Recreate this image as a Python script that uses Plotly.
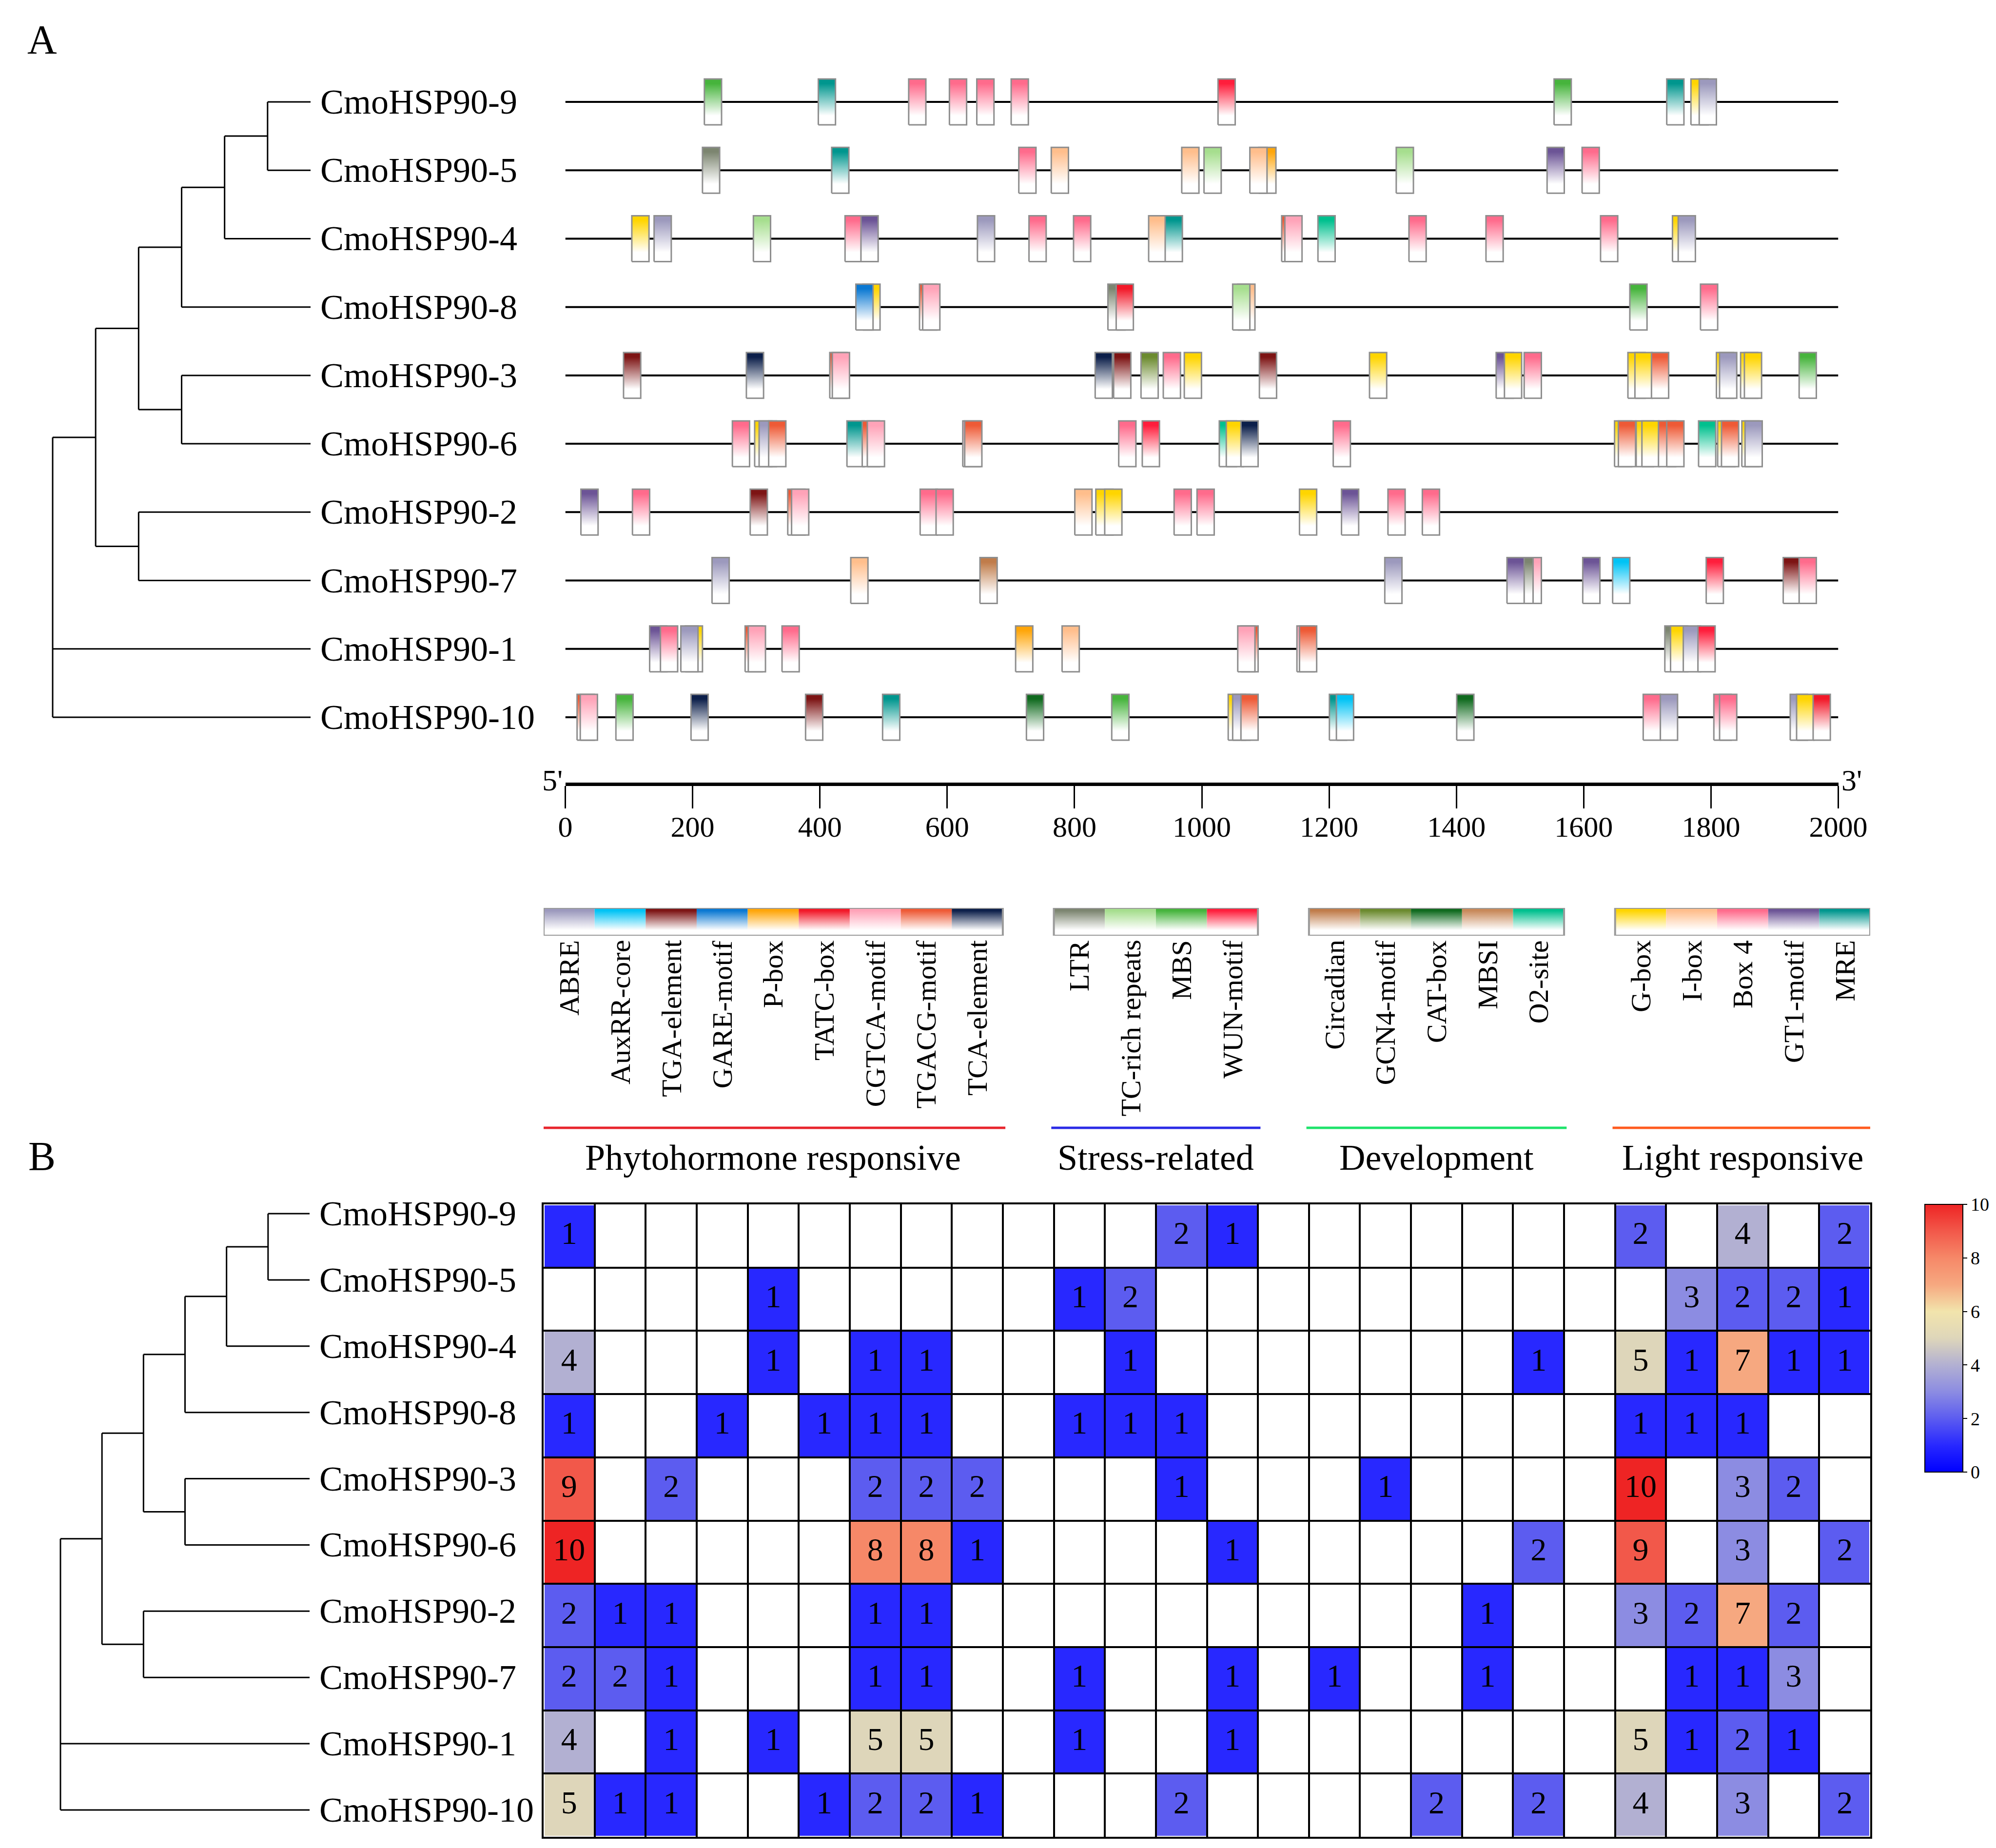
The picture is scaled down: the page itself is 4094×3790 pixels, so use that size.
import plotly.graph_objects as go

W, H = 4094, 3790
FONT = "Liberation Serif"

# ---------------- data ----------------
GENES = ["CmoHSP90-9", "CmoHSP90-5", "CmoHSP90-4", "CmoHSP90-8", "CmoHSP90-3",
         "CmoHSP90-6", "CmoHSP90-2", "CmoHSP90-7", "CmoHSP90-1", "CmoHSP90-10"]

TREE = ((((((("CmoHSP90-9", "CmoHSP90-5"), "CmoHSP90-4"), "CmoHSP90-8"),
           ("CmoHSP90-3", "CmoHSP90-6")),
          ("CmoHSP90-2", "CmoHSP90-7"))),
        "CmoHSP90-1", "CmoHSP90-10")

GROUPS = ["Phytohormone responsive", "Stress-related", "Development", "Light responsive"]
GROUP_MOTIFS = [
    ["ABRE", "AuxRR-core", "TGA-element", "GARE-motif", "P-box", "TATC-box",
     "CGTCA-motif", "TGACG-motif", "TCA-element"],
    ["LTR", "TC-rich repeats", "MBS", "WUN-motif"],
    ["Circadian", "GCN4-motif", "CAT-box", "MBSI", "O2-site"],
    ["G-box", "I-box", "Box 4", "GT1-motif", "MRE"],
]

# counts per gene, motif order as in GROUP_MOTIFS flattened
COUNTS_9 = [1, 0, 0, 0, 0, 0, 0, 0, 0, 0, 0, 2, 1, 0, 0, 0, 0, 0, 2, 0, 4, 0, 2]
COUNTS_5 = [0, 0, 0, 0, 1, 0, 0, 0, 0, 1, 2, 0, 0, 0, 0, 0, 0, 0, 0, 3, 2, 2, 1]
COUNTS_4 = [4, 0, 0, 0, 1, 0, 1, 1, 0, 0, 1, 0, 0, 0, 0, 0, 0, 1, 5, 1, 7, 1, 1]
COUNTS_8 = [1, 0, 0, 1, 0, 1, 1, 1, 0, 1, 1, 1, 0, 0, 0, 0, 0, 0, 1, 1, 1, 0, 0]
COUNTS_3 = [9, 0, 2, 0, 0, 0, 2, 2, 2, 0, 0, 1, 0, 0, 1, 0, 0, 0, 10, 0, 3, 2, 0]
COUNTS_6 = [10, 0, 0, 0, 0, 0, 8, 8, 1, 0, 0, 0, 1, 0, 0, 0, 0, 2, 9, 0, 3, 0, 2]
COUNTS_2 = [2, 1, 1, 0, 0, 0, 1, 1, 0, 0, 0, 0, 0, 0, 0, 0, 1, 0, 3, 2, 7, 2, 0]
COUNTS_7 = [2, 2, 1, 0, 0, 0, 1, 1, 0, 1, 0, 0, 1, 1, 0, 0, 1, 0, 0, 1, 1, 3, 0]
COUNTS_1 = [4, 0, 1, 0, 1, 0, 5, 5, 0, 1, 0, 0, 1, 0, 0, 0, 0, 0, 5, 1, 2, 1, 0]
COUNTS_10 = [5, 1, 1, 0, 0, 1, 2, 2, 1, 0, 0, 2, 0, 0, 0, 2, 0, 2, 4, 0, 3, 0, 2]
COUNTS = [COUNTS_9, COUNTS_5, COUNTS_4, COUNTS_8, COUNTS_3,
          COUNTS_6, COUNTS_2, COUNTS_7, COUNTS_1, COUNTS_10]

# promoter element positions (bp) per gene, in drawing order
SITES_9 = [("MBS", 232), ("MRE", 411), ("Box 4", 553), ("Box 4", 617), ("Box 4", 660),
           ("Box 4", 714), ("WUN-motif", 1039), ("MBS", 1567), ("MRE", 1744),
           ("G-box", 1782), ("ABRE", 1795)]
SITES_5 = [("LTR", 229), ("MRE", 432), ("Box 4", 726), ("I-box", 777), ("I-box", 982),
           ("TC-rich repeats", 1017), ("P-box", 1103), ("I-box", 1089),
           ("TC-rich repeats", 1319), ("GT1-motif", 1556), ("Box 4", 1611)]
SITES_4 = [("G-box", 118), ("ABRE", 153), ("TC-rich repeats", 309), ("Box 4", 453),
           ("GT1-motif", 478), ("ABRE", 661), ("Box 4", 742), ("Box 4", 812), ("I-box", 930),
           ("MRE", 956), ("TGACG-motif", 1139), ("CGTCA-motif", 1144), ("O2-site", 1196),
           ("Box 4", 1339), ("Box 4", 1460), ("Box 4", 1640), ("G-box", 1753), ("ABRE", 1762)]
SITES_8 = [("G-box", 481), ("GARE-motif", 470), ("TGACG-motif", 570), ("CGTCA-motif", 575),
           ("LTR", 866), ("TATC-box", 879), ("I-box", 1070), ("TC-rich repeats", 1062),
           ("MBS", 1686), ("Box 4", 1797)]
SITES_3 = [("TGA-element", 105), ("TCA-element", 298), ("TGACG-motif", 429),
           ("CGTCA-motif", 433), ("TCA-element", 846), ("TGA-element", 875),
           ("GCN4-motif", 918), ("Box 4", 953), ("G-box", 986), ("TGA-element", 1104),
           ("G-box", 1277), ("GT1-motif", 1476), ("G-box", 1489), ("Box 4", 1520),
           ("G-box", 1683), ("G-box", 1694), ("TGACG-motif", 1720), ("G-box", 1822),
           ("ABRE", 1827), ("G-box", 1860), ("G-box", 1866), ("MBS", 1952)]
SITES_6 = [("Box 4", 276), ("G-box", 311), ("ABRE", 318), ("TGACG-motif", 333), ("MRE", 456),
           ("TGACG-motif", 480), ("CGTCA-motif", 488), ("CGTCA-motif", 638),
           ("TGACG-motif", 641), ("Box 4", 883), ("WUN-motif", 920), ("O2-site", 1041),
           ("G-box", 1052), ("TCA-element", 1075), ("Box 4", 1220), ("G-box", 1662),
           ("TGACG-motif", 1668), ("G-box", 1696), ("G-box", 1705), ("TGACG-motif", 1731),
           ("TGACG-motif", 1744), ("O2-site", 1794), ("G-box", 1824), ("TGACG-motif", 1830),
           ("G-box", 1862), ("ABRE", 1867)]
SITES_2 = [("GT1-motif", 38), ("Box 4", 119), ("TGA-element", 304), ("TGACG-motif", 363),
           ("CGTCA-motif", 369), ("Box 4", 571), ("Box 4", 596), ("I-box", 814), ("G-box", 847),
           ("G-box", 861), ("Box 4", 970), ("Box 4", 1006), ("G-box", 1167), ("GT1-motif", 1233),
           ("Box 4", 1306), ("Box 4", 1360)]
SITES_7 = [("ABRE", 244), ("I-box", 462), ("Circadian", 665), ("ABRE", 1301),
           ("CGTCA-motif", 1520), ("LTR", 1507), ("GT1-motif", 1493), ("GT1-motif", 1612),
           ("AuxRR-core", 1659), ("WUN-motif", 1806), ("TGA-element", 1927), ("Box 4", 1952)]
SITES_1 = [("GT1-motif", 146), ("Box 4", 163), ("G-box", 202), ("ABRE", 195),
           ("TGACG-motif", 296), ("CGTCA-motif", 301), ("Box 4", 354), ("P-box", 721),
           ("I-box", 794), ("TGACG-motif", 1075), ("CGTCA-motif", 1070), ("CGTCA-motif", 1163),
           ("TGACG-motif", 1167), ("LTR", 1741), ("G-box", 1750), ("ABRE", 1770),
           ("WUN-motif", 1793)]
SITES_10 = [("TGACG-motif", 32), ("CGTCA-motif", 37), ("MBS", 93), ("TCA-element", 211),
            ("TGA-element", 391), ("MRE", 512), ("CAT-box", 738), ("MBS", 872), ("G-box", 1055),
            ("ABRE", 1062), ("TGACG-motif", 1075), ("MRE", 1214), ("AuxRR-core", 1225),
            ("CAT-box", 1414), ("Box 4", 1707), ("ABRE", 1734), ("Box 4", 1818), ("Box 4", 1827),
            ("ABRE", 1938), ("G-box", 1948), ("TATC-box", 1974)]
SITES = [SITES_9, SITES_5, SITES_4, SITES_8, SITES_3, SITES_6, SITES_2, SITES_7, SITES_1, SITES_10]

AXIS_TICKS = [0, 200, 400, 600, 800, 1000, 1200, 1400, 1600, 1800, 2000]
CBAR_TICKS = [0, 2, 4, 6, 8, 10]

# ---------------- styles ----------------
MOTIF_COLORS = {
    "ABRE": "#9c99bd", "AuxRR-core": "#00c3f5", "TGA-element": "#7d1414",
    "GARE-motif": "#0a78d2", "P-box": "#ffa60a", "TATC-box": "#f21828",
    "CGTCA-motif": "#ffa3b8", "TGACG-motif": "#ee5a36", "TCA-element": "#0c1f4a",
    "LTR": "#7c8570", "TC-rich repeats": "#a6de8e", "MBS": "#46b43c", "WUN-motif": "#ff1e3c",
    "Circadian": "#c07c4a", "GCN4-motif": "#6b8a2e", "CAT-box": "#0f6a1e", "MBSI": "#c8895a",
    "O2-site": "#00c08e", "G-box": "#ffd500", "I-box": "#ffbe8c", "Box 4": "#ff6b8c",
    "GT1-motif": "#6c5496", "MRE": "#00968e",
}
GROUP_LINE_COLORS = ["#e8242c", "#2a2ae6", "#1de36a", "#ff5a1e"]
HEAT_CS = [[0.0, "rgb(0,0,255)"], [0.1, "rgb(40,40,255)"], [0.2, "rgb(92,92,240)"],
           [0.3, "rgb(140,140,226)"], [0.4, "rgb(178,176,210)"], [0.5, "rgb(222,214,186)"],
           [0.6, "rgb(242,228,172)"], [0.7, "rgb(246,168,128)"], [0.8, "rgb(246,136,104)"],
           [0.9, "rgb(242,88,74)"], [1.0, "rgb(238,36,36)"]]
BOX_W = 27          # bp
BOX_H = 0.335       # half height in row units
N = len(GENES)


def xdom(a, b):
    return [a / W, b / W]


def ydom(top, bottom):
    return [1 - bottom / H, 1 - top / H]


def grad(color):
    return dict(type="vertical",
                colorscale=[[0, "#ffffff"], [0.2, "#ffffff"], [0.9, color], [1, color]])


fig = go.Figure()


# ---------------- trees ----------------
def max_depth(node, d=0):
    if isinstance(node, str):
        return d
    return max(max_depth(c, d + 1) for c in node)


LEAF_X = max_depth(TREE)  # leaves aligned one level after deepest node


def tree_lines(node, depth, leaf_y, xs, ys):
    if isinstance(node, str):
        return LEAF_X, leaf_y[node]
    kids = [tree_lines(c, depth + 1, leaf_y, xs, ys) for c in node]
    cys = [k[1] for k in kids]
    xs += [depth, depth, None]
    ys += [min(cys), max(cys), None]
    for kx, ky in kids:
        xs += [depth, kx, None]
        ys += [ky, ky, None]
    return depth, (min(cys) + max(cys)) / 2


leaf_y = {g: N - 1 - i for i, g in enumerate(GENES)}
for xa, ya in (("x", "y"), ("x4", "y3")):
    xs, ys = [], []
    tree_lines(TREE, 0, leaf_y, xs, ys)
    fig.add_trace(go.Scatter(x=xs, y=ys, mode="lines", line=dict(color="black", width=3),
                             xaxis=xa, yaxis=ya, hoverinfo="skip"))

# ---------------- promoter tracks ----------------
lx, ly = [], []
for i in range(N):
    lx += [AXIS_TICKS[0], AXIS_TICKS[-1], None]
    ly += [N - 1 - i, N - 1 - i, None]
fig.add_trace(go.Scatter(x=lx, y=ly, mode="lines", line=dict(color="black", width=4),
                         xaxis="x2", yaxis="y", hoverinfo="skip"))

for i, sites in enumerate(SITES):
    yc = N - 1 - i
    for motif, pos in sites:
        x0, x1 = pos - BOX_W / 2, pos + BOX_W / 2
        fig.add_trace(go.Scatter(
            x=[x0, x1, x1, x0, x0], y=[yc - BOX_H, yc - BOX_H, yc + BOX_H, yc + BOX_H, yc - BOX_H],
            mode="lines", fill="toself", fillgradient=grad(MOTIF_COLORS[motif]),
            line=dict(color="#8e8e8e", width=3), xaxis="x2", yaxis="y", hoverinfo="skip"))

# ---------------- heatmap ----------------
col_of = {}
col = 0
for gi, motifs in enumerate(GROUP_MOTIFS):
    for m in motifs:
        col_of[m] = col
        col += 1
    if gi < len(GROUP_MOTIFS) - 1:
        col += 1  # spacer column
NCOL = col
flat_motifs = [m for g in GROUP_MOTIFS for m in g]

z = []
tx, ty, tt = [], [], []
for i, counts in enumerate(COUNTS):
    zr = [None] * NCOL
    for m, v in zip(flat_motifs, counts):
        if v:
            zr[col_of[m]] = v
            tx.append(col_of[m])
            ty.append(N - 1 - i)
            tt.append(str(v))
    z.append(zr)

fig.add_trace(go.Heatmap(
    z=z[::-1], x=list(range(NCOL)), y=list(range(N)),
    zmin=0, zmax=10, colorscale=HEAT_CS, xgap=4, ygap=4,
    xaxis="x3", yaxis="y2", hoverinfo="skip",
    colorbar=dict(x=3940 / W, xanchor="left", y=1 - 2462 / H, yanchor="top",
                  len=549, lenmode="pixels", thickness=78, thicknessmode="pixels",
                  xpad=0, ypad=0, tickvals=CBAR_TICKS, ticks="outside", ticklen=8,
                  tickwidth=2, tickcolor="black", outlinewidth=2, outlinecolor="black",
                  tickfont=dict(size=38, family=FONT, color="black"))))
fig.add_trace(go.Scatter(x=tx, y=ty, text=tt, mode="text", textposition="middle center",
                         textfont=dict(size=66, family=FONT, color="black"),
                         xaxis="x3", yaxis="y2", hoverinfo="skip"))

# ---------------- legend bars ----------------
for gi, motifs in enumerate(GROUP_MOTIFS):
    for m in motifs:
        c = col_of[m]
        fig.add_trace(go.Scatter(
            x=[c - 0.5, c + 0.5, c + 0.5, c - 0.5, c - 0.5], y=[0, 0, 1, 1, 0],
            mode="lines", fill="toself", fillgradient=grad(MOTIF_COLORS[m]),
            line=dict(width=0), xaxis="x5", yaxis="y4", hoverinfo="skip"))
    c0, c1 = col_of[motifs[0]] - 0.5, col_of[motifs[-1]] + 0.5
    fig.add_trace(go.Scatter(x=[c0, c1, c1, c0, c0], y=[0, 0, 1, 1, 0], mode="lines",
                             line=dict(color="#9a9a9a", width=4),
                             xaxis="x5", yaxis="y4", hoverinfo="skip"))

# ---------------- annotations ----------------
ann = []
for g in GENES:
    ann.append(dict(x=LEAF_X, y=leaf_y[g], xref="x", yref="y", text=g, showarrow=False,
                    xanchor="left", yanchor="middle", xshift=18,
                    font=dict(size=72, family=FONT, color="black")))
    ann.append(dict(x=LEAF_X, y=leaf_y[g], xref="x4", yref="y3", text=g, showarrow=False,
                    xanchor="left", yanchor="middle", xshift=18,
                    font=dict(size=72, family=FONT, color="black")))

for m in flat_motifs:
    ann.append(dict(x=col_of[m], y=1 - 1918 / H, xref="x5", yref="paper", text=m,
                    showarrow=False, textangle=-90, xanchor="center", yanchor="top",
                    font=dict(size=58, family=FONT, color="black")))

shapes = []
for gi, motifs in enumerate(GROUP_MOTIFS):
    c0, c1 = col_of[motifs[0]] - 0.55, col_of[motifs[-1]] + 0.55
    shapes.append(dict(type="line", xref="x5", yref="paper", x0=c0, x1=c1,
                       y0=1 - 2305 / H, y1=1 - 2305 / H,
                       line=dict(color=GROUP_LINE_COLORS[gi], width=5)))
    ann.append(dict(x=(c0 + c1) / 2, y=1 - 2366 / H, xref="x5", yref="paper", text=GROUPS[gi],
                    showarrow=False, xanchor="center", yanchor="middle",
                    font=dict(size=74, family=FONT, color="black")))

ann.append(dict(x=AXIS_TICKS[0], y=1 - 1592 / H, xref="x2", yref="paper", text="5'",
                showarrow=False, xanchor="right", yanchor="middle", xshift=-4,
                font=dict(size=62, family=FONT, color="black")))
ann.append(dict(x=AXIS_TICKS[-1], y=1 - 1592 / H, xref="x2", yref="paper", text="3'",
                showarrow=False, xanchor="left", yanchor="middle", xshift=4,
                font=dict(size=62, family=FONT, color="black")))
ann.append(dict(x=78 / W, y=1 - 73 / H, xref="paper", yref="paper", text="A", showarrow=False,
                xanchor="center", yanchor="middle", font=dict(size=84, family=FONT, color="black")))
ann.append(dict(x=78 / W, y=1 - 2363 / H, xref="paper", yref="paper", text="B", showarrow=False,
                xanchor="center", yanchor="middle", font=dict(size=84, family=FONT, color="black")))

# ---------------- axes ----------------
hidden = dict(visible=False, showgrid=False, zeroline=False)
pad_top = 0.05 * 529 / 6
pad_bot = 0.05 * 511 / 6
fig.update_layout(
    width=W, height=H, autosize=False,
    margin=dict(l=0, r=0, t=0, b=0, pad=0, autoexpand=False),
    paper_bgcolor="white", plot_bgcolor="white", showlegend=False,
    font=dict(family=FONT, color="black"),
    xaxis=dict(domain=xdom(100 - pad_top, 629 + pad_top), range=[-0.05, LEAF_X + 0.05],
               anchor="y", **hidden),
    yaxis=dict(domain=ydom(201 - 70.1, 1463 + 70.1), range=[-0.5, N - 0.5], anchor="x", **hidden),
    xaxis2=dict(domain=xdom(1151.5, 3762.5), range=[AXIS_TICKS[0], AXIS_TICKS[-1]],
                anchor="free", position=1 - 1600 / H, showgrid=False, zeroline=False,
                showline=True, linecolor="black", linewidth=7,
                tickvals=AXIS_TICKS, ticks="outside", ticklen=46, tickwidth=3,
                tickcolor="black", ticklabelstandoff=-14,
                tickfont=dict(size=60, family=FONT, color="black")),
    xaxis3=dict(domain=xdom(1107, 3828), range=[-0.5, NCOL - 0.5], anchor="y2",
                tickvals=[k - 0.5 for k in range(NCOL + 1)], showticklabels=False, ticks="",
                showgrid=True, gridcolor="black", gridwidth=4, zeroline=False,
                showline=True, mirror=True, linecolor="black", linewidth=4),
    yaxis2=dict(domain=ydom(2462, 3759), range=[-0.5, N - 0.5], anchor="x3",
                tickvals=[k - 0.5 for k in range(N + 1)], showticklabels=False, ticks="",
                showgrid=True, gridcolor="black", gridwidth=4, zeroline=False,
                showline=True, mirror=True, linecolor="black", linewidth=4),
    xaxis4=dict(domain=xdom(116 - pad_bot, 627 + pad_bot), range=[-0.05, LEAF_X + 0.05],
                anchor="y3", **hidden),
    yaxis3=dict(domain=ydom(2481 - 67.95, 3704 + 67.95), range=[-0.5, N - 0.5], anchor="x4",
                **hidden),
    xaxis5=dict(domain=xdom(1107, 3828), range=[-0.5, NCOL - 0.5], anchor="y4", **hidden),
    yaxis4=dict(domain=ydom(1854, 1911), range=[0, 1], anchor="x5", **hidden),
    annotations=ann, shapes=shapes,
)

fig.write_html("out.html")
